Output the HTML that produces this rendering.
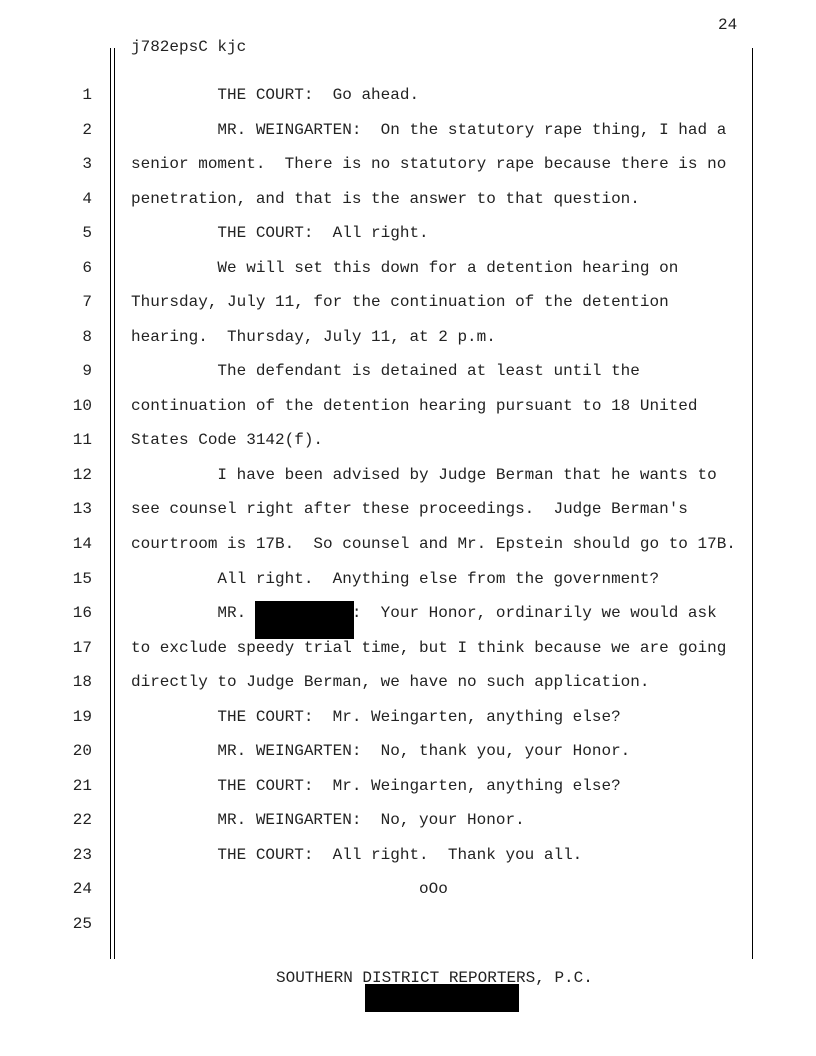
<!DOCTYPE html>
<html><head><meta charset="utf-8"><style>
body{margin:0;background:#fff}
#p{position:relative;width:816px;height:1056px;overflow:hidden;font-family:"Liberation Mono",monospace;font-size:16px;color:#222}
.t{position:absolute;left:131px;white-space:pre;line-height:18px}
.n{position:absolute;left:40px;width:52px;text-align:right;line-height:18px}
.v{position:absolute;width:1px;background:#000}
.b{position:absolute;background:#000}
</style></head><body><div id="p">
<div class="t" style="left:718px;top:16px">24</div>
<div class="t" style="top:38px">j782epsC kjc</div>
<div class="v" style="left:110px;top:48px;height:911px"></div>
<div class="v" style="left:114px;top:48px;height:911px"></div>
<div class="v" style="left:752px;top:48px;height:911px"></div>
<div id="lines"></div>
<div class="t" style="left:276px;top:969px">SOUTHERN DISTRICT REPORTERS, P.C.</div>
<div class="b" style="left:365px;top:984px;width:154px;height:28px"></div>
<div class="b" style="left:255px;top:601px;width:99px;height:38px"></div>
<script>
var L=["         THE COURT:  Go ahead.",
"         MR. WEINGARTEN:  On the statutory rape thing, I had a",
"senior moment.  There is no statutory rape because there is no",
"penetration, and that is the answer to that question.",
"         THE COURT:  All right.",
"         We will set this down for a detention hearing on",
"Thursday, July 11, for the continuation of the detention",
"hearing.  Thursday, July 11, at 2 p.m.",
"         The defendant is detained at least until the",
"continuation of the detention hearing pursuant to 18 United",
"States Code 3142(f).",
"         I have been advised by Judge Berman that he wants to",
"see counsel right after these proceedings.  Judge Berman's",
"courtroom is 17B.  So counsel and Mr. Epstein should go to 17B.",
"         All right.  Anything else from the government?",
"         MR.           :  Your Honor, ordinarily we would ask",
"to exclude speedy trial time, but I think because we are going",
"directly to Judge Berman, we have no such application.",
"         THE COURT:  Mr. Weingarten, anything else?",
"         MR. WEINGARTEN:  No, thank you, your Honor.",
"         THE COURT:  Mr. Weingarten, anything else?",
"         MR. WEINGARTEN:  No, your Honor.",
"         THE COURT:  All right.  Thank you all.",
"                              oOo",
""];
var h="";
for(var i=0;i<25;i++){var y=Math.round(95+i*34.54-9);
h+='<div class="n" style="top:'+y+'px">'+(i+1)+'</div><div class="t" style="top:'+y+'px">'+L[i].replace(/&/g,"&amp;").replace(/</g,"&lt;")+'</div>';}
document.getElementById("lines").innerHTML=h;
</script>
</div></body></html>
